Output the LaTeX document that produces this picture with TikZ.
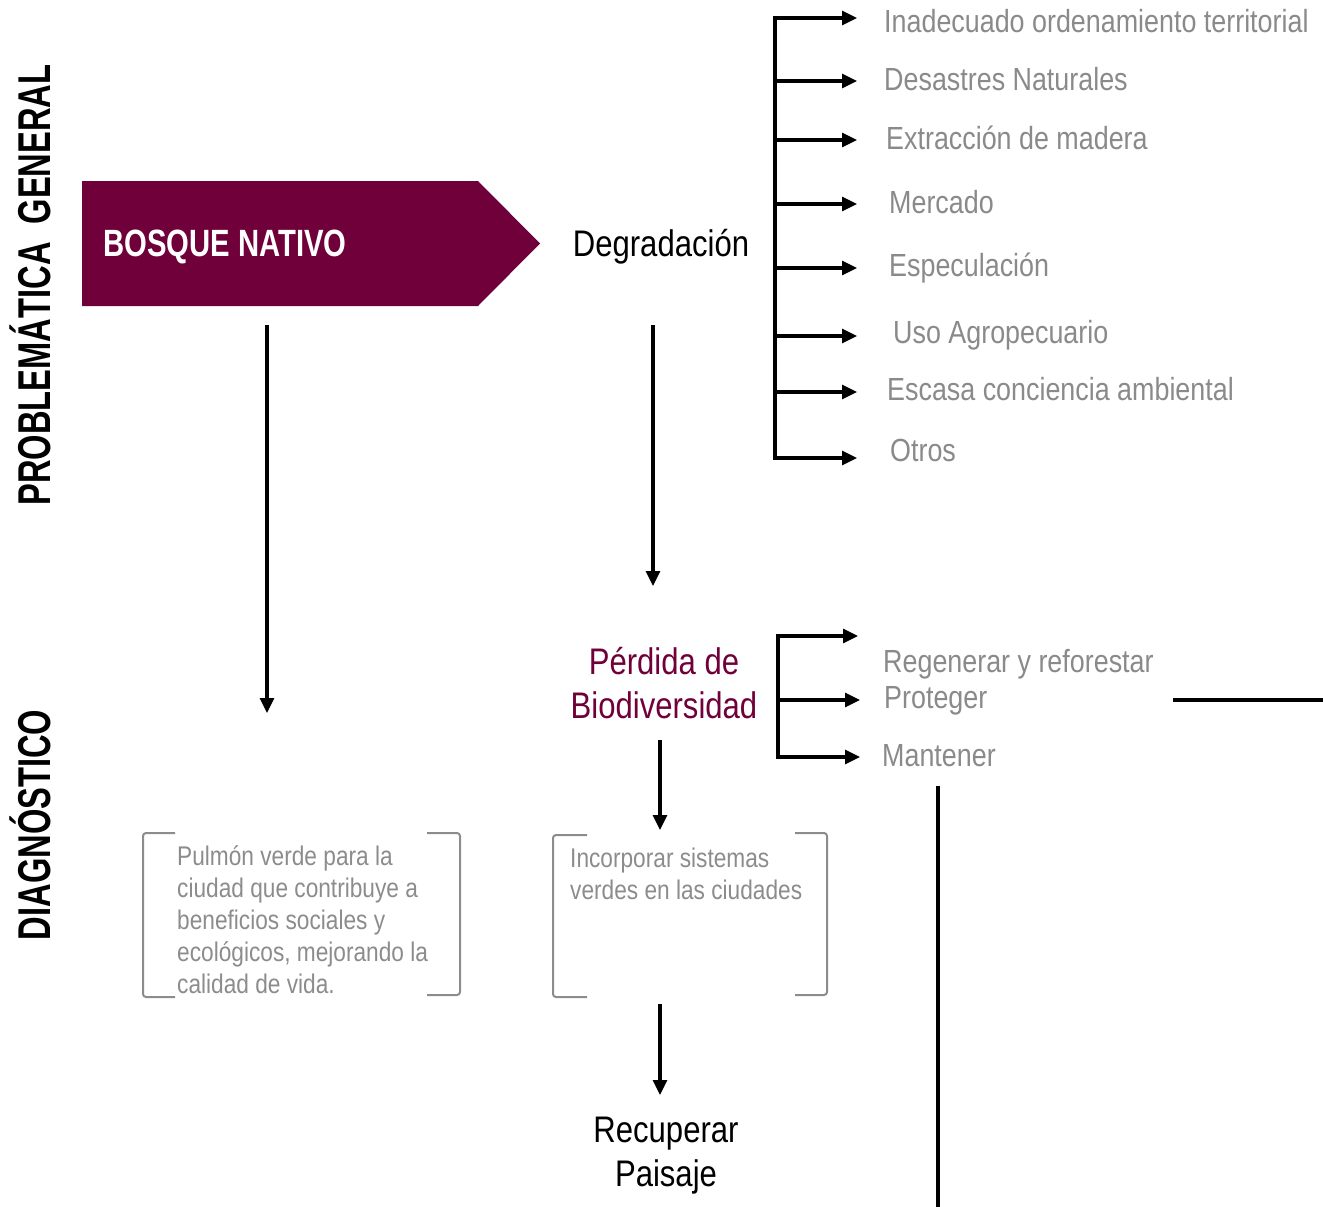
\documentclass[tikz,border=0pt]{standalone}
\usepackage{fontspec}
\setmainfont{Liberation Sans}[FakeStretch=0.84]
\newfontfamily\titlefont{Liberation Sans}[FakeStretch=0.71]
\newfontfamily\bosquefont{Liberation Sans}[FakeStretch=0.77]
\usetikzlibrary{arrows.meta}
\definecolor{maroon}{RGB}{112,0,58}
\definecolor{greytext}{RGB}{138,138,138}
\definecolor{bracketgrey}{RGB}{140,140,140}
\tikzset{
  arr/.style={line width=3.2pt,-{Triangle[length=15pt,width=14pt]}},
  plainline/.style={line width=3.2pt},
  trunk/.style={line width=3.2pt,line cap=rect},
  title/.style={font=\titlefont\bfseries\fontsize{46}{50}\selectfont,rotate=90,anchor=base,inner sep=0pt},
  cause/.style={font=\fontsize{32}{36}\selectfont,text=greytext,anchor=base west,inner sep=0pt},
  main/.style={font=\fontsize{37}{44}\selectfont,inner sep=0pt,align=center},
  boxtext/.style={font=\fontsize{27}{32}\selectfont,text=bracketgrey,anchor=north west,inner sep=0pt,align=left},
  brk/.style={draw=bracketgrey,line width=2pt,rounded corners=3pt}
}
\begin{document}
\begin{tikzpicture}[x=1pt,y=-1pt]
\useasboundingbox (0,0) rectangle (1323,1207);
% titles
\node[title] (t1) at (50,285) {PROBLEMÁTICA\ \ GENERAL};
\node[title] (t2) at (50,825) {DIAGNÓSTICO};
% bosque nativo arrow
\fill[maroon] (82,181) -- (478,181) -- (540,243.5) -- (478,306) -- (82,306) -- cycle;
\node[font=\bosquefont\bfseries\fontsize{38}{40}\selectfont,text=white,anchor=base west,inner sep=0pt] (bosque) at (103,256) {BOSQUE NATIVO};
% degradacion
\node[main,anchor=base] (degr) at (661,256) {Degradación};
% causes tree
\coordinate (ctop) at (775,18);
\coordinate (cbot) at (775,458);
\draw[trunk] (ctop) -- (cbot);
\foreach \y/\n in {18/c1,81/c2,140/c3,204/c4,268/c5,336/c6,392/c7,458/c8}{
  \coordinate (\n s) at (775,\y);
  \coordinate (\n e) at (857,\y);
  \draw[arr] (\n s) -- (\n e);
}
\node[cause] (n1) at (884,33) {Inadecuado ordenamiento territorial};
\node[cause] (n2) at (884,90) {Desastres Naturales};
\node[cause] (n3) at (886,149) {Extracción de madera};
\node[cause] (n4) at (889,213) {Mercado};
\node[cause] (n5) at (889,276) {Especulación};
\node[cause] (n6) at (893,343) {Uso Agropecuario};
\node[cause] (n7) at (887,400) {Escasa conciencia ambiental};
\node[cause] (n8) at (890,461) {Otros};
% vertical arrows
\coordinate (a1s) at (267,325); \coordinate (a1e) at (267,713);
\draw[arr] (a1s) -- (a1e);
\coordinate (a2s) at (653,325); \coordinate (a2e) at (653,586);
\draw[arr] (a2s) -- (a2e);
% perdida
\node[main,text=maroon,anchor=base] (perd) at (664,718) {Pérdida de\\Biodiversidad};
% actions tree
\coordinate (dtop) at (778,636);
\coordinate (dbot) at (778,757);
\draw[trunk] (dtop) -- (dbot);
\foreach \y/\n/\e in {636/d1/858,700/d2/860,757/d3/860}{
  \coordinate (\n s) at (778,\y);
  \coordinate (\n e) at (\e,\y);
  \draw[arr] (\n s) -- (\n e);
}
\node[cause] (m1) at (883,672) {Regenerar y reforestar};
\node[cause] (m2) at (884,708) {Proteger};
\node[cause] (m3) at (882,766) {Mantener};
\coordinate (h1) at (1173,700); \coordinate (h2) at (1323,700);
\draw[plainline] (h1) -- (h2);
\coordinate (v1) at (938,786); \coordinate (v2) at (938,1207);
\draw[plainline] (v1) -- (v2);
% arrow perdida -> box
\coordinate (a3s) at (660,740); \coordinate (a3e) at (660,830);
\draw[arr] (a3s) -- (a3e);
% box 1
\draw[brk] (175,833) -- (143,833) -- (143,997) -- (175,997);
\draw[brk] (427,833) -- (460,833) -- (460,995) -- (427,995);
\node[boxtext] (b1) at (177,845) {Pulmón verde para la\\ciudad que contribuye a\\beneficios sociales y\\ecológicos, mejorando la\\calidad de vida.};
% box 2
\draw[brk] (587,835) -- (553,835) -- (553,997) -- (587,997);
\draw[brk] (795,833) -- (827,833) -- (827,995) -- (795,995);
\node[boxtext] (b2) at (570,848) {Incorporar sistemas\\verdes en las ciudades};
% arrow -> recuperar
\coordinate (a4s) at (660,1004); \coordinate (a4e) at (660,1095);
\draw[arr] (a4s) -- (a4e);
\node[main,anchor=base] (rec) at (666,1186) {Recuperar\\Paisaje};
\end{tikzpicture}
\end{document}
